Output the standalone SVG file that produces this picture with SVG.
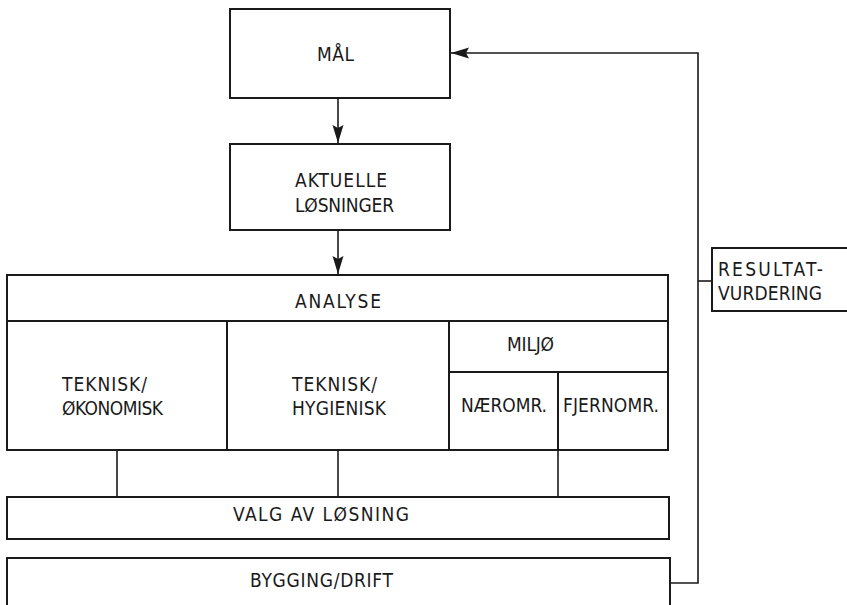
<svg xmlns="http://www.w3.org/2000/svg" width="847" height="605" viewBox="0 0 847 605">
  <style>
    .box { fill: none; stroke: #1a1a1a; stroke-width: 2; }
    .div { fill: none; stroke: #1a1a1a; stroke-width: 2; }
    .link { fill: none; stroke: #1a1a1a; stroke-width: 1.6; }
    text { font-family: "DejaVu Sans Condensed", "DejaVu Sans", sans-serif; font-stretch: condensed; font-size: 19px; fill: #1a1a1a; }
  </style>
  <defs>
    <marker id="head" markerUnits="userSpaceOnUse" markerWidth="20" markerHeight="12" refX="18" refY="5.5" orient="auto">
      <path d="M0,0 L18,5.5 L0,11 L3,5.5 z" fill="#1a1a1a"/>
    </marker>
  </defs>

  <rect width="847" height="605" fill="#ffffff"/>

  <!-- connectors -->
  <g id="connectors">
    <path class="link" d="M338,98 V143" marker-end="url(#head)"/>
    <path class="link" d="M338,230 V274" marker-end="url(#head)"/>
    <path class="link" d="M117,450 V497"/>
    <path class="link" d="M338,450 V497"/>
    <path class="link" d="M558,450 V497"/>
    <path class="link" d="M670,583 H698 V53 H451" marker-end="url(#head)"/>
    <path class="link" d="M698,281 H712"/>
  </g>

  <g id="maal">
    <rect class="box" x="230" y="9" width="220" height="89"/>
    <text x="317" y="61" textLength="37" lengthAdjust="spacing">MÅL</text>
  </g>

  <g id="aktuelle-losninger">
    <rect class="box" x="230" y="144" width="220" height="86"/>
    <text x="295" y="187" textLength="92" lengthAdjust="spacing">AKTUELLE</text>
    <text x="295" y="212" textLength="99" lengthAdjust="spacing">LØSNINGER</text>
  </g>

  <g id="analyse">
    <rect class="box" x="7" y="275" width="661" height="175"/>
    <path class="div" d="M7,321 H668 M227,321 V450 M449,321 V450"/>
    <text x="295" y="308" textLength="86" lengthAdjust="spacing">ANALYSE</text>

    <g id="teknisk-okonomisk">
      <text x="62" y="391" textLength="85" lengthAdjust="spacing">TEKNISK/</text>
      <text x="62" y="415" textLength="101" lengthAdjust="spacing">ØKONOMISK</text>
    </g>

    <g id="teknisk-hygienisk">
      <text x="292" y="391" textLength="85" lengthAdjust="spacing">TEKNISK/</text>
      <text x="292" y="415" textLength="94" lengthAdjust="spacing">HYGIENISK</text>
    </g>

    <g id="miljo">
      <path class="div" d="M449,372 H668 M558,372 V450"/>
      <text x="507" y="351" textLength="47" lengthAdjust="spacing">MILJØ</text>
      <text x="461" y="412" textLength="86" lengthAdjust="spacing">NÆROMR.</text>
      <text x="563" y="412" textLength="96" lengthAdjust="spacing">FJERNOMR.</text>
    </g>
  </g>

  <g id="valg-av-losning">
    <rect class="box" x="7" y="497" width="662" height="42"/>
    <text x="233" y="521" textLength="176" lengthAdjust="spacing">VALG AV LØSNING</text>
  </g>

  <g id="bygging-drift">
    <rect class="box" x="7" y="558" width="663" height="60"/>
    <text x="250" y="587" textLength="143" lengthAdjust="spacing">BYGGING/DRIFT</text>
  </g>

  <g id="resultatvurdering">
    <rect class="box" x="712" y="248" width="150" height="63"/>
    <text x="718" y="276" textLength="105" lengthAdjust="spacing">RESULTAT-</text>
    <text x="718" y="300" textLength="104" lengthAdjust="spacing">VURDERING</text>
  </g>
</svg>
